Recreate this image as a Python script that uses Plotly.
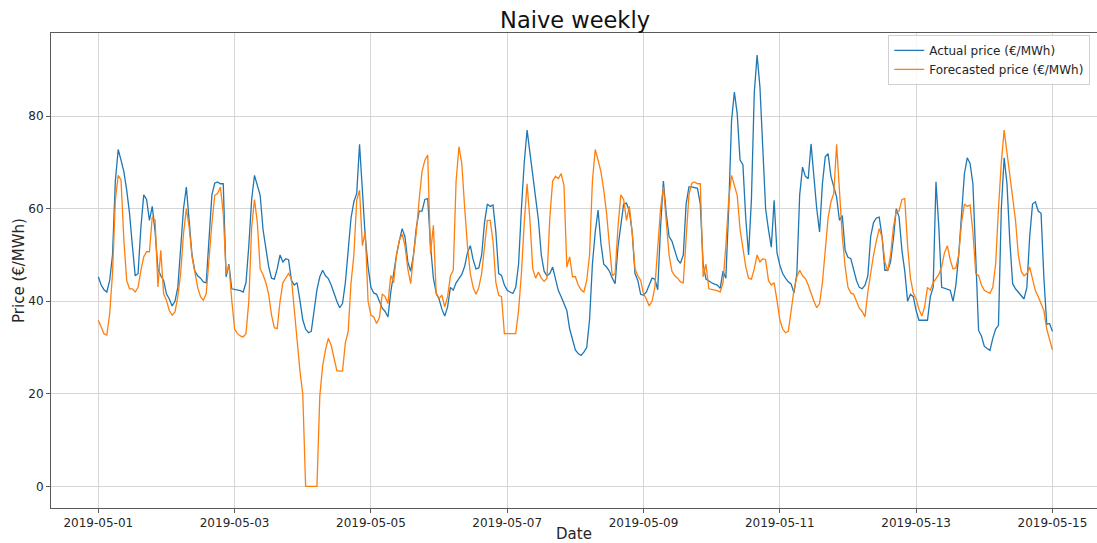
import pandas as pd
import plotly.graph_objects as go

# Hourly day-ahead prices, 2019-05-01 00:00 .. 2019-05-15 00:00 (337 hours)
actual_price = [
    # 05-01
    45.3, 43.5, 42.5, 42.0, 44.5, 50.0, 66.0, 72.8, 70.5, 68.0, 64.0, 59.0,
    52.0, 45.5, 46.0, 56.0, 63.0, 62.0, 57.5, 60.5, 55.0, 47.0, 45.5, 44.5,
    # 05-02
    41.6, 40.5, 39.0, 40.0, 43.0, 52.0, 60.0, 64.7, 58.0, 50.0, 46.5, 45.5,
    45.0, 44.2, 44.0, 54.0, 63.0, 65.5, 65.8, 65.4, 65.4, 45.3, 48.0, 42.7,
    # 05-03
    42.6, 42.5, 42.3, 42.0, 44.0, 52.0, 62.0, 67.2, 65.2, 62.9, 55.5, 51.0,
    47.5, 45.0, 44.8, 47.0, 50.0, 48.5, 49.2, 49.0, 44.5, 43.5, 44.0, 40.2,
    # 05-04
    36.0, 34.0, 33.2, 33.5, 38.0, 42.5, 45.3, 46.7, 45.5, 44.9, 43.5, 41.5,
    40.0, 38.6, 39.5, 44.0, 51.5, 58.0, 61.5, 63.3, 73.9, 63.0, 54.0, 47.5,
    # 05-05
    43.0, 41.8, 41.5, 40.0, 38.5, 37.8, 36.6, 42.0, 46.5, 50.0, 53.0, 55.7,
    53.9, 48.5, 46.5, 50.0, 56.0, 59.5, 59.5, 62.0, 62.2, 52.0, 45.0, 41.8,
    # 05-06
    40.5, 38.3, 36.8, 38.8, 43.0, 42.4, 44.0, 45.0, 45.8, 47.5, 50.5, 52.0,
    49.0, 47.0, 47.2, 50.0, 57.0, 61.0, 60.5, 60.8, 55.0, 46.0, 45.6, 43.5,
    # 05-07
    42.4, 42.0, 41.7, 43.0, 48.0, 60.0, 70.0, 77.0, 71.9, 67.0, 61.5, 57.5,
    50.0, 46.5, 45.5, 46.0, 47.4, 44.5, 42.3, 41.0, 39.5, 38.0, 34.0, 32.0,
    # 05-08
    29.5, 28.7, 28.3, 29.0, 30.0, 36.0, 48.0, 55.0, 59.7, 52.5, 48.0, 47.4,
    46.5, 45.0, 43.8, 51.7, 56.5, 61.0, 61.2, 59.5, 55.0, 46.0, 44.5, 41.5,
    # 05-09
    41.3, 42.0, 43.5, 45.0, 44.8, 42.5, 56.0, 66.0, 59.0, 54.0, 53.0, 51.0,
    49.0, 48.2, 50.0, 61.0, 64.7, 64.7, 64.5, 64.4, 61.0, 48.0, 44.8, 44.3,
    # 05-10
    44.0, 43.7, 43.5, 42.8, 46.5, 45.0, 60.0, 79.0, 85.2, 80.5, 70.5, 69.5,
    58.0, 50.0, 62.0, 85.0, 93.2, 86.3, 71.2, 60.0, 55.5, 51.7, 61.8, 50.5,
    # 05-11
    47.8, 46.0, 45.0, 44.2, 43.7, 41.8, 46.0, 63.0, 69.0, 67.0, 66.5, 74.0,
    67.0, 60.0, 55.0, 65.4, 71.2, 71.9, 67.0, 64.8, 62.5, 57.5, 58.5, 51.0,
    # 05-12
    49.5, 49.2, 46.5, 44.5, 43.0, 42.7, 43.5, 45.5, 54.0, 57.0, 58.0, 58.2,
    54.0, 46.7, 46.7, 48.5, 53.5, 60.0, 58.2, 51.0, 46.5, 40.0, 41.5, 41.0,
    # 05-13
    38.0, 35.9, 35.9, 35.9, 35.9, 41.0, 43.0, 65.8, 56.0, 43.0, 42.8, 42.5,
    42.4, 40.0, 43.5, 50.0, 60.0, 67.5, 71.0, 69.8, 65.4, 49.0, 33.7, 32.5,
    # 05-14
    30.3, 29.8, 29.4, 32.0, 34.0, 34.8, 60.0, 71.0, 65.4, 53.0, 43.8, 42.7,
    42.0, 41.3, 40.5, 43.0, 54.0, 61.0, 61.5, 59.5, 59.0, 45.0, 35.0, 35.2,
    # 05-15 00:00
    33.5,
]

# Prices of the week before (2019-04-24 .. 2019-04-30), used as the first
# week of the naive weekly forecast
previous_week_price = [
    35.9, 34.5, 33.0, 32.7, 37.3, 46.0, 61.8, 67.2, 66.2, 53.2, 44.5, 42.7,
    42.7, 42.0, 43.0, 46.7, 49.6, 50.7, 50.7, 58.2, 57.5, 43.1, 51.0, 41.6,
    40.2, 38.0, 37.0, 37.7, 41.0, 46.0, 54.6, 60.0, 56.0, 49.6, 46.0, 43.0,
    41.0, 40.2, 41.6, 49.6, 56.8, 62.9, 63.3, 64.7, 59.0, 46.0, 47.8, 40.2,
    34.0, 33.0, 32.5, 32.3, 33.0, 40.0, 56.0, 62.0, 57.0, 47.0, 45.8, 44.0,
    41.5, 37.0, 34.3, 34.1, 40.0, 44.0, 44.9, 46.0, 45.0, 38.0, 32.0, 25.0,
    20.0, 0.0, 0.0, 0.0, 0.0, 0.0, 19.5, 26.0, 29.5, 32.0, 30.5, 28.0,
    25.0, 24.9, 24.9, 31.0, 33.5, 44.0, 50.0, 61.8, 64.0, 52.0, 55.0, 40.0,
    37.0, 36.6, 35.2, 36.5, 41.6, 41.0, 39.5, 45.6, 44.0, 50.0, 53.2, 54.5,
    52.0, 47.0, 43.8, 50.0, 55.0, 62.0, 68.0, 70.5, 71.6, 50.3, 56.4, 41.5,
    40.6, 41.3, 38.8, 41.0, 45.5, 46.7, 66.0, 73.4, 69.8, 60.4, 52.0, 46.0,
    43.0, 41.5, 43.0, 46.0, 52.0, 57.5, 57.5, 53.0, 44.0, 41.3, 41.0, 33.0,
    33.0, 33.0, 33.0, 33.0, 38.0, 46.0, 57.0, 65.4, 57.5, 47.0, 45.0, 46.3,
    45.0, 44.3, 45.0, 58.0, 66.0, 67.0, 66.5, 67.6, 65.0, 47.4, 49.6, 45.3,
]

dates = pd.date_range("2019-05-01 00:00", periods=len(actual_price), freq="h")

# Naive weekly forecast: the price of the same hour one week (168 h) earlier
season = 168
forecast_price = previous_week_price + actual_price[: len(actual_price) - season]

y_ticks = [0, 20, 40, 60, 80]
x_ticks = pd.date_range("2019-05-01", "2019-05-15", freq="2D")
x_tick_labels = [d.strftime("%Y-%m-%d") for d in x_ticks]

FONT = "DejaVu Sans"
TEXT = "#262626"

fig = go.Figure()
fig.add_trace(go.Scatter(
    x=dates, y=actual_price, mode="lines", name="Actual price (€/MWh)",
    line=dict(color="#1f77b4", width=1.3),
))
fig.add_trace(go.Scatter(
    x=dates, y=forecast_price, mode="lines", name="Forecasted price (€/MWh)",
    line=dict(color="#ff7f0e", width=1.3),
))

x_start = pd.Timestamp("2019-05-01") - pd.Timedelta(hours=16.66)
x_end = pd.Timestamp("2019-05-15") + pd.Timedelta(hours=15.7)

fig.update_layout(
    width=1097, height=543,
    margin=dict(l=51, r=0, t=33, b=35, pad=0),
    paper_bgcolor="white", plot_bgcolor="white",
    font=dict(family=FONT, size=12, color=TEXT),
    title=dict(
        text="Naive weekly", font=dict(family=FONT, size=22.5, color="#111111"),
        xref="paper", x=0.501, xanchor="center",
        yref="container", y=1 - 20 / 543, yanchor="middle",
    ),
    showlegend=True,
    legend=dict(
        x=0.9935, xanchor="right", y=0.996, yanchor="top",
        bgcolor="rgba(255,255,255,0.85)", bordercolor="#d0d0d0", borderwidth=1,
        font=dict(family=FONT, size=12, color=TEXT),
        tracegroupgap=0, itemwidth=30,
    ),
    xaxis=dict(
        range=[x_start, x_end],
        tickmode="array", tickvals=list(x_ticks), ticktext=x_tick_labels,
        showgrid=True, gridcolor="#d6d6d6", gridwidth=1,
        showline=True, linecolor="#5a5a5a", linewidth=1, mirror=True,
        ticks="outside", ticklen=4, tickcolor="#5a5a5a",
        tickfont=dict(family=FONT, size=12, color=TEXT),
        title=dict(text="Date", font=dict(family=FONT, size=15, color=TEXT), standoff=3),
        zeroline=False,
    ),
    yaxis=dict(
        range=[-4.67, 97.97],
        tickmode="array", tickvals=y_ticks,
        showgrid=True, gridcolor="#d6d6d6", gridwidth=1,
        showline=True, linecolor="#5a5a5a", linewidth=1,
        ticks="outside", ticklen=4, tickcolor="#5a5a5a",
        tickfont=dict(family=FONT, size=12, color=TEXT),
        title=dict(text="Price (€/MWh)", font=dict(family=FONT, size=15, color=TEXT), standoff=0),
        zeroline=False,
    ),
)

fig.write_html("out.html")
